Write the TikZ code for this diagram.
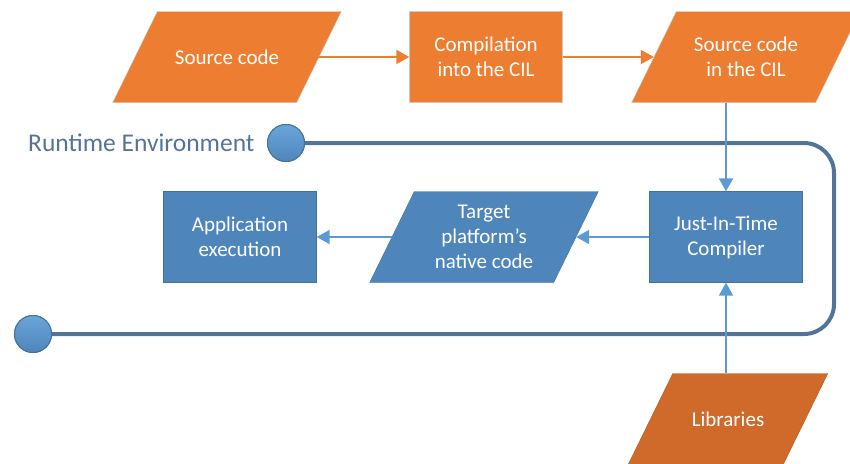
\documentclass[tikz,border=0pt]{standalone}
\usepackage{fontspec}
\setmainfont{Carlito}
\usetikzlibrary{arrows.meta}
\definecolor{orng}{RGB}{237,125,49}
\definecolor{darkorng}{RGB}{207,106,42}
\definecolor{blu}{RGB}{78,134,188}
\definecolor{arrowblu}{RGB}{91,155,213}
\definecolor{edgeblu}{RGB}{65,113,156}
\definecolor{loopblu}{RGB}{82,116,154}
\definecolor{grayedge}{RGB}{205,200,195}

\begin{document}
\begin{tikzpicture}[x=1pt,y=-1pt,
    txt/.style={text=white,align=center,font=\fontsize{21}{25}\selectfont},
    box/.style={txt,rectangle,minimum width=153pt,minimum height=91pt},
    slab/.style={rectangle,minimum width=184pt,minimum height=91pt,xslant=0.49},
    ptxt/.style={txt,minimum width=184pt,minimum height=91pt},
    orange/.style={fill=orng,draw=grayedge},
    blue/.style={fill=blu,draw=edgeblu},
    flow/.style={line width=2pt,-{Triangle[length=13pt,width=14pt]}},
    endball/.style={circle,minimum size=37pt,inner sep=0pt,draw=edgeblu,line width=1pt,
        top color=arrowblu!90!white,bottom color=blu},
    ]
    \useasboundingbox (0,0) rectangle (850,463);

    \node[slab,orange] at (227,57) {};
    \node[ptxt] (src) at (227,57) {Source code};
    \node[box,orange] (comp) at (486,57) {Compilation\\into the CIL};
    \node[slab,orange] at (746,57) {};
    \node[ptxt] (cil) at (746,57) {Source code\\in the CIL};

    \node[box,blue] (jit) at (726,237) {Just-In-Time\\Compiler};
    \node[slab,blue] at (484,237) {};
    \node[ptxt] (target) at (484,237) {Target\\platform’s\\native code};
    \node[box,blue] (app) at (240,237) {Application\\execution};

    \node[slab,minimum width=155pt,fill=darkorng,draw=darkorng!85!black] at (728,419) {};
    \node[ptxt,minimum width=155pt] (lib) at (728,419) {Libraries};

    \node[anchor=east,text=loopblu,font=\fontsize{25.5}{30}\selectfont] (rt) at (258,143) {Runtime Environment};
    \node[endball] (start) at (286,143) {};
    \node[endball] (stop) at (33,334) {};
    \draw[loopblu,line width=4pt,rounded corners=30pt] (start.east) -- (834,143) -- (834,334) -- (stop.east);
    \node[endball] at (start) {};
    \node[endball] at (stop) {};

    \draw[flow,orng] (src) -- (comp);
    \draw[flow,orng] (comp) -- (cil);
    \draw[flow,arrowblu] (jit.north |- cil.south) -- (jit.north);
    \draw[flow,arrowblu] (jit.south |- lib.north) -- (jit.south);
    \draw[flow,arrowblu] (jit) -- (target);
    \draw[flow,arrowblu] (target) -- (app);
\end{tikzpicture}
\end{document}
